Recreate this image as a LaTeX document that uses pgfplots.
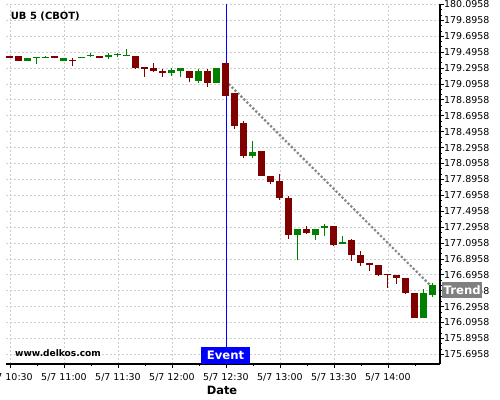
\documentclass[border=0pt]{standalone}
\usepackage{pgfplots}
\pgfplotsset{compat=1.18}
\usepackage{pgfplotstable}
\usepackage{fontspec}
\setmainfont{DejaVu Sans}
\definecolor{bearc}{RGB}{128,0,0}
\definecolor{bullc}{RGB}{0,128,0}
\definecolor{gridc}{RGB}{205,205,205}
\definecolor{trendc}{RGB}{135,135,135}
\definecolor{trendbox}{RGB}{128,128,128}

\pgfplotstableread{
i o h l c
0 179.447 179.447 179.420 179.422
1 179.450 179.450 179.380 179.390
5 179.450 179.450 179.420 179.422
7 179.400 179.420 179.320 179.395
10 179.450 179.450 179.420 179.422
14 179.447 179.447 179.290 179.296
15 179.305 179.305 179.190 179.300
16 179.296 179.355 179.250 179.262
17 179.258 179.290 179.190 179.237
20 179.258 179.258 179.120 179.174
22 179.258 179.290 179.060 179.110
24 179.359 179.359 178.947 178.947
25 178.980 178.980 178.536 178.566
26 178.600 178.630 178.160 178.190
28 178.250 178.250 177.940 177.940
29 177.936 177.936 177.840 177.870
30 177.877 177.970 177.640 177.663
31 177.663 177.690 177.150 177.193
33 177.276 177.310 177.210 177.222
36 177.310 177.310 177.060 177.067
38 177.130 177.150 176.870 176.945
39 176.945 176.995 176.810 176.844
40 176.840 176.840 176.740 176.820
41 176.815 176.815 176.680 176.693
42 176.710 176.710 176.530 176.690
43 176.690 176.690 176.585 176.655
44 176.650 176.650 176.450 176.466
45 176.463 176.463 176.150 176.160
}\bear

\pgfplotstableread{
i o h l c
2 179.390 179.420 179.385 179.420
3 179.430 179.430 179.350 179.432
4 179.430 179.450 179.420 179.432
6 179.390 179.420 179.380 179.420
8 179.430 179.432 179.430 179.432
9 179.460 179.480 179.430 179.462
11 179.430 179.480 179.410 179.455
12 179.470 179.490 179.440 179.472
13 179.455 179.540 179.450 179.465
18 179.240 179.300 179.195 179.266
19 179.262 179.296 179.190 179.296
21 179.136 179.290 179.110 179.258
23 179.110 179.296 179.110 179.296
27 178.190 178.377 178.160 178.245
32 177.193 177.276 176.880 177.276
34 177.193 177.276 177.130 177.276
35 177.280 177.340 177.180 177.310
37 177.100 177.190 177.090 177.102
46 176.160 176.520 176.150 176.463
47 176.440 176.590 176.420 176.565
}\bull

\begin{document}
\begin{tikzpicture}
\begin{axis}[
  at={(6bp,36bp)}, anchor=south west,
  scale only axis, width=434bp, height=360bp,
  xmin=-0.444, xmax=47.78, ymin=175.574, ymax=180.102,
  axis x line*=bottom, axis y line*=right,
  axis line style={line width=1.2bp, black},
  tick align=outside,
  major tick length=4bp, minor tick length=2bp,
  tick style={black, line width=0.8bp},
  xtick={0,6,12,18,24,30,36,42},
  xticklabels={5/7 10:30,5/7 11:00,5/7 11:30,5/7 12:00,5/7 12:30,5/7 13:00,5/7 13:30,5/7 14:00},
  minor xtick={3,9,15,21,27,33,39,45},
  ytick={175.6958,175.8958,176.0958,176.2958,176.4958,176.6958,176.8958,177.0958,177.2958,177.4958,177.6958,177.8958,178.0958,178.2958,178.4958,178.6958,178.8958,179.0958,179.2958,179.4958,179.6958,179.8958,180.0958},
  yticklabels={175.6958,175.8958,176.0958,176.2958,176.4958,176.6958,176.8958,177.0958,177.2958,177.4958,177.6958,177.8958,178.0958,178.2958,178.4958,178.6958,178.8958,179.0958,179.2958,179.4958,179.6958,179.8958,180.0958},
  minor y tick num=2,
  grid=major,
  major grid style={gridc, line width=0.8bp, dash pattern=on 2bp off 2bp},
  tick label style={font=\fontsize{9.5}{11}\selectfont},
  xticklabel style={anchor=north, inner sep=0pt, yshift=-5.3bp},
  yticklabel style={anchor=west, inner sep=0pt},
]
% event line
\addplot[color=blue, line width=1bp, forget plot] coordinates {(24.06,175.574) (24.06,180.102)};
% trend line
\addplot[color=trendc, line width=2.2bp, dash pattern=on 2.2bp off 2bp, forget plot] coordinates {(24.3,179.0958) (47.3,176.4958)};
% wicks
\addplot[draw=none, no markers, forget plot,
  error bars/.cd, y dir=both, y explicit, error mark=none, error bar style={draw=bearc, line width=1bp}]
  table[x=i, y=l, y error plus expr=\thisrow{h}-\thisrow{l}, y error minus expr=0] {\bear};
\addplot[draw=none, no markers, forget plot,
  error bars/.cd, y dir=both, y explicit, error mark=none, error bar style={draw=bullc, line width=1bp}]
  table[x=i, y=l, y error plus expr=\thisrow{h}-\thisrow{l}, y error minus expr=0] {\bull};
% bodies
\addplot[draw=none, no markers, forget plot,
  error bars/.cd, y dir=both, y explicit, error mark=none, error bar style={draw=bearc, line width=7bp}]
  table[x=i, y expr={(\thisrow{o}+\thisrow{c})/2}, y error expr={max(abs(\thisrow{c}-\thisrow{o})/2,0.0065)}] {\bear};
\addplot[draw=none, no markers, forget plot,
  error bars/.cd, y dir=both, y explicit, error mark=none, error bar style={draw=bullc, line width=7bp}]
  table[x=i, y expr={(\thisrow{o}+\thisrow{c})/2}, y error expr={max(abs(\thisrow{c}-\thisrow{o})/2,0.0065)}] {\bull};
\end{axis}
\node[anchor=base west, inner sep=0pt, font=\bfseries\fontsize{10}{12}\selectfont] at (10.7bp,380.7bp) {UB 5 (CBOT)};
\node[anchor=base west, inner sep=0pt, font=\bfseries\fontsize{9.1}{11}\selectfont] at (15bp,43.3bp) {www.delkos.com};
\node[anchor=south, fill=blue, text=white, font=\bfseries\fontsize{11.7}{13}\selectfont, inner xsep=5.7bp, inner ysep=0pt, minimum height=16.6bp, text height=8.5bp, text depth=0bp] at (225.5bp,36bp) {Event};
\node[anchor=west, fill=trendbox, text=white, font=\bfseries\fontsize{11.7}{13}\selectfont, inner xsep=1.8bp, inner ysep=0pt, minimum height=15.7bp, text height=8.6bp, text depth=0bp] at (441.7bp,109.85bp) {Trend};
\node[anchor=base, inner sep=0pt, font=\bfseries\fontsize{11.5}{13}\selectfont] at (222bp,6bp) {Date};
\pgfresetboundingbox
\path[use as bounding box] (0,0) rectangle (500bp,400bp);
\end{tikzpicture}
\end{document}
